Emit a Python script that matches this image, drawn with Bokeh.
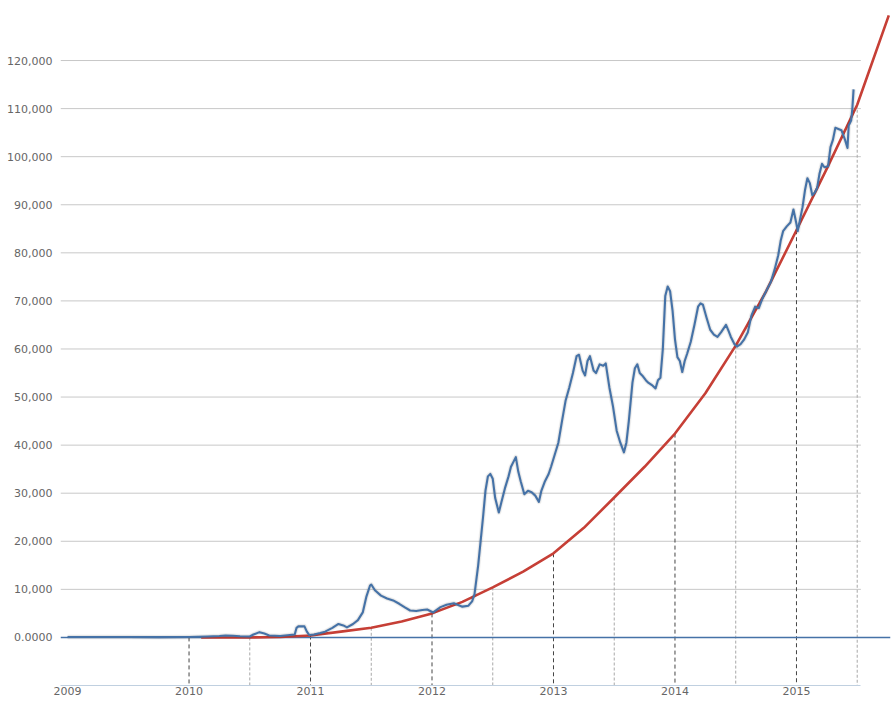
from bokeh.plotting import figure
from bokeh.models import FixedTicker, CustomJSTickFormatter, Range1d
from bokeh.embed import file_html
from bokeh.resources import INLINE

# ---------------- data ----------------
blue_t = [2009.00, 2009.25, 2009.50, 2009.75, 2010.00, 2010.15, 2010.25, 2010.30, 2010.36, 2010.42,
          2010.50, 2010.53, 2010.58, 2010.62, 2010.66, 2010.75, 2010.83, 2010.87, 2010.885, 2010.90,
          2010.95, 2010.97, 2010.99, 2011.03, 2011.08, 2011.12, 2011.18, 2011.23, 2011.27, 2011.30,
          2011.35, 2011.39, 2011.43, 2011.46, 2011.49, 2011.50, 2011.53, 2011.58, 2011.63, 2011.68,
          2011.73, 2011.78, 2011.82, 2011.87, 2011.92, 2011.96, 2012.01, 2012.07, 2012.12, 2012.18,
          2012.21, 2012.25, 2012.30, 2012.33, 2012.35, 2012.38, 2012.40, 2012.42, 2012.44, 2012.46,
          2012.48, 2012.50, 2012.52, 2012.55, 2012.57, 2012.60, 2012.63, 2012.65, 2012.69, 2012.71,
          2012.73, 2012.76, 2012.79, 2012.82, 2012.85, 2012.88, 2012.90, 2012.93, 2012.96, 2012.98,
          2013.01, 2013.04, 2013.07, 2013.10, 2013.13, 2013.16, 2013.19, 2013.21, 2013.24, 2013.26,
          2013.28, 2013.30, 2013.33, 2013.35, 2013.38, 2013.41, 2013.43, 2013.46, 2013.49, 2013.52,
          2013.55, 2013.58, 2013.60, 2013.62, 2013.65, 2013.67, 2013.69, 2013.71, 2013.73, 2013.76,
          2013.78, 2013.81, 2013.84, 2013.86, 2013.88, 2013.90, 2013.92, 2013.94, 2013.96, 2013.98,
          2014.00, 2014.02, 2014.04, 2014.06, 2014.08, 2014.10, 2014.13, 2014.16, 2014.19, 2014.21,
          2014.23, 2014.26, 2014.29, 2014.32, 2014.35, 2014.38, 2014.42, 2014.44, 2014.46, 2014.49,
          2014.51, 2014.54, 2014.57, 2014.60, 2014.63, 2014.66, 2014.69, 2014.72, 2014.76, 2014.79,
          2014.82, 2014.85, 2014.87, 2014.89, 2014.92, 2014.95, 2014.975, 2015.00, 2015.01, 2015.03,
          2015.05, 2015.07, 2015.09, 2015.11, 2015.13, 2015.15, 2015.17, 2015.19, 2015.21, 2015.23,
          2015.26, 2015.28, 2015.30, 2015.32, 2015.34, 2015.37, 2015.40, 2015.42, 2015.43, 2015.45,
          2015.46, 2015.47]
blue_v = [100, 100, 80, 60, 100, 200, 300, 400, 350, 250,
          200, 600, 1100, 800, 400, 300, 500, 600, 2000, 2300,
          2300, 1200, 500, 600, 900, 1200, 2000, 2800, 2500, 2100,
          2800, 3600, 5200, 8500, 10800, 11000, 9800, 8700, 8100, 7700,
          7000, 6200, 5600, 5500, 5700, 5800, 5200, 6300, 6800, 7100,
          6800, 6400, 6600, 7500, 9000, 15000, 20000, 25000, 30500, 33500,
          34000, 33000, 29000, 26000, 28000, 31000, 33500, 35500, 37500, 34500,
          32500, 29800, 30500, 30200, 29500, 28200, 30500, 32500, 34000, 35500,
          38000, 40500, 45000, 49300, 52000, 55000, 58500, 58800, 55500, 54500,
          57500, 58500, 55500, 55000, 56800, 56500, 57000, 52000, 48000, 43000,
          40500, 38500, 40500, 45000, 53000, 56000, 56800, 55000, 54500, 53500,
          53000, 52500, 51800, 53500, 54000, 60000, 71000, 73000, 72000, 68000,
          62000, 58300, 57500, 55200, 57500, 59000, 61500, 65000, 68800, 69500,
          69200, 66500, 64000, 63000, 62500, 63500, 65000, 63800, 62500, 61000,
          60500, 61000, 62000, 63500, 67000, 68800, 68500, 70500, 72500, 74000,
          76500, 79500, 82500, 84500, 85500, 86300, 89000, 86000, 84500, 87000,
          89500, 93000, 95500, 94500, 92000, 92500, 93500, 96500, 98500, 97800,
          98000, 102000, 103500, 106000, 105800, 105500, 103500, 101800, 106500, 107500,
          110000, 114000]

red_t = [2010.10, 2010.50, 2010.75, 2011.00, 2011.25, 2011.50, 2011.75, 2012.00, 2012.25, 2012.50,
         2012.75, 2013.00, 2013.25, 2013.50, 2013.75, 2014.00, 2014.25, 2014.50, 2014.75, 2015.00,
         2015.25, 2015.50, 2015.76]
red_v = [0, 0, 100, 400, 1200, 2000, 3300, 5000, 7400, 10400,
         13700, 17500, 22800, 29100, 35500, 42400, 50800, 60700, 72000, 84700,
         97500, 110800, 129400]

year_marks = [2010, 2011, 2012, 2013, 2014, 2015]
year_tops = [0, 400, 5000, 17500, 42400, 84700]
half_marks = [2010.5, 2011.5, 2012.5, 2013.5, 2014.5, 2015.5]
half_tops = [0, 2000, 10400, 29100, 60700, 110800]

x_ticks = [2009, 2010, 2011, 2012, 2013, 2014, 2015]
y_ticks = [0, 10000, 20000, 30000, 40000, 50000, 60000, 70000, 80000, 90000, 100000, 110000, 120000]

# ---------------- styling ----------------
BLUE = "#4572A7"
RED = "#C63F36"
X_START, X_END, X_PLOT_END = 2008.942, 2015.774, 2015.53
Y_START, Y_END = -10000, 130407
FONT = "DejaVu Sans"

p = figure(width=896, height=697, output_backend="svg", toolbar_location=None,
           x_range=Range1d(X_START, X_END), y_range=Range1d(Y_START, Y_END),
           min_border_left=60, min_border_right=6, min_border_top=10, min_border_bottom=0)
p.outline_line_color = None
p.xgrid.grid_line_color = None
p.ygrid.grid_line_color = None
p.background_fill_color = "white"

# horizontal grid lines (end where the plot area ends)
grid_vals = y_ticks[1:]
p.segment(x0=[X_START] * len(grid_vals), x1=[X_PLOT_END] * len(grid_vals),
          y0=grid_vals, y1=grid_vals, line_color="#C8C8C8", line_width=1)

# vertical dashed drop lines
p.segment(x0=half_marks, x1=half_marks, y0=half_tops, y1=[Y_START] * len(half_marks),
          line_color="#A8A8A8", line_width=1, line_dash="3 2")
p.segment(x0=year_marks, x1=year_marks, y0=year_tops, y1=[Y_START] * len(year_marks),
          line_color="#444444", line_width=1, line_dash="4 3")

# zero line
p.segment(x0=[X_START], x1=[X_END], y0=[0], y1=[0], line_color=BLUE, line_width=1.6)

# red trend curve
p.line(red_t, red_v, line_color=RED, line_width=2.6, line_join="round")

# blue series with soft shadow
p.line(blue_t, blue_v, line_color="#000000", line_alpha=0.05, line_width=5, line_join="round")
p.line(blue_t, blue_v, line_color="#000000", line_alpha=0.06, line_width=3.5, line_join="round")
p.line(blue_t, blue_v, line_color=BLUE, line_width=2.1, line_join="round")

# axes
xa = p.xaxis[0]
xa.ticker = FixedTicker(ticks=x_ticks)
xa.bounds = (X_START, X_PLOT_END)
xa.axis_line_color = "#C0D0E0"
xa.axis_line_width = 1
xa.major_tick_line_color = None
xa.minor_tick_line_color = None
xa.major_tick_out = 0
xa.major_tick_in = 0
xa.major_label_standoff = 1
xa.major_label_text_font = FONT
xa.major_label_text_font_size = "11px"
xa.major_label_text_color = "#666666"

ya = p.yaxis[0]
ya.ticker = FixedTicker(ticks=y_ticks)
ya.formatter = CustomJSTickFormatter(code="""
    if (tick == 0) { return "0.0000"; }
    return Math.round(tick).toLocaleString('en-US');
""")
ya.axis_line_color = None
ya.major_tick_line_color = None
ya.minor_tick_line_color = None
ya.major_tick_out = 0
ya.major_tick_in = 0
ya.major_label_standoff = 8
ya.major_label_text_font = FONT
ya.major_label_text_font_size = "11px"
ya.major_label_text_color = "#666666"

open("out.html", "w").write(file_html(p, INLINE))
